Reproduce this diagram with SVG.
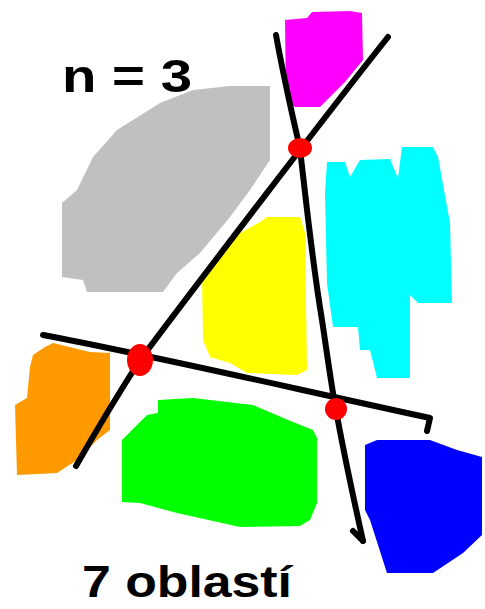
<svg xmlns="http://www.w3.org/2000/svg" width="485" height="609" viewBox="0 0 485 609">
<style>
.ln{fill:none;stroke:#000;stroke-width:6;stroke-linecap:round;stroke-linejoin:round}
.dot{fill:#ff0000}
.hw{font-family:"Liberation Sans","DejaVu Sans",sans-serif;font-weight:bold;fill:#000}
</style>
<rect width="485" height="609" fill="#fff"/>
<g id="region-gray"><path fill="#c0c0c0" d="M193,90 L230,86 L270,86 L270,160 L250,190 L230,217 L200,253 L177,273 L163,292 L87,292 L83,280 L62,277 L62,203 L77,190 L93,157 L117,130 L160,103 Z"/></g>
<g id="region-magenta"><path fill="#ff00ff" d="M285,20 L307,18 L312,12 L350,11 L362,13 L363,60 L345,82 L320,107 L295,107 L286,100 Z"/></g>
<g id="region-cyan"><path fill="#00ffff" d="M327,162 L345,162 L350,177 L360,160 L390,159 L398,178 L402,147 L433,147 L438,157 L450,223 L452,303 L418,303 L410,295 L410,378 L377,378 L370,350 L360,350 L358,327 L333,327 L327,283 L325,193 Z"/></g>
<g id="region-yellow"><path fill="#ffff00" d="M267,217 L300,217 L305,233 L307,370 L297,375 L247,373 L230,363 L210,357 L203,340 L202,277 L217,260 L240,233 L260,222 Z"/></g>
<g id="region-orange"><path fill="#ff9900" d="M45,347 L53,343 L90,352 L110,353 L110,430 L97,440 L77,460 L57,473 L17,475 L15,405 L27,398 L30,367 L33,355 Z"/></g>
<g id="region-green"><path fill="#00ff00" d="M158,400 L193,398 L253,405 L293,422 L313,430 L317,438 L317,503 L310,520 L300,526 L240,527 L177,513 L140,503 L122,502 L122,440 L147,415 L158,413 Z"/></g>
<g id="region-blue"><path fill="#0000ff" d="M365,445 L377,440 L430,440 L457,450 L482,457 L482,535 L463,553 L433,573 L387,573 L370,520 L365,510 Z"/></g>
<g id="connectors">
<path class="ln" d="M276,35 C286,90 296,130 300,149 C306,200 312,260 322,320 C328,360 332,390 336,410 C345,460 355,505 363,541"/>
<path class="ln" d="M353,531 L363,541"/>
<path class="ln" d="M388,37 C330,110 200,280 140,360 Q108,410 76,466"/>
<path class="ln" d="M43,335 C150,355 300,390 430,418 L427,431"/>
</g>
<g id="intersections">
<ellipse class="dot" cx="300" cy="148" rx="12" ry="10"/>
<ellipse class="dot" cx="140" cy="360" rx="13" ry="16"/>
<ellipse class="dot" cx="336" cy="409" rx="11" ry="11"/>
</g>
<g id="labels">
<text class="hw" x="62" y="92" font-size="46" textLength="130" lengthAdjust="spacingAndGlyphs">n = 3</text>
<text class="hw" x="82" y="597" font-size="44" textLength="210" lengthAdjust="spacingAndGlyphs">7 oblastí</text>
</g>
</svg>
